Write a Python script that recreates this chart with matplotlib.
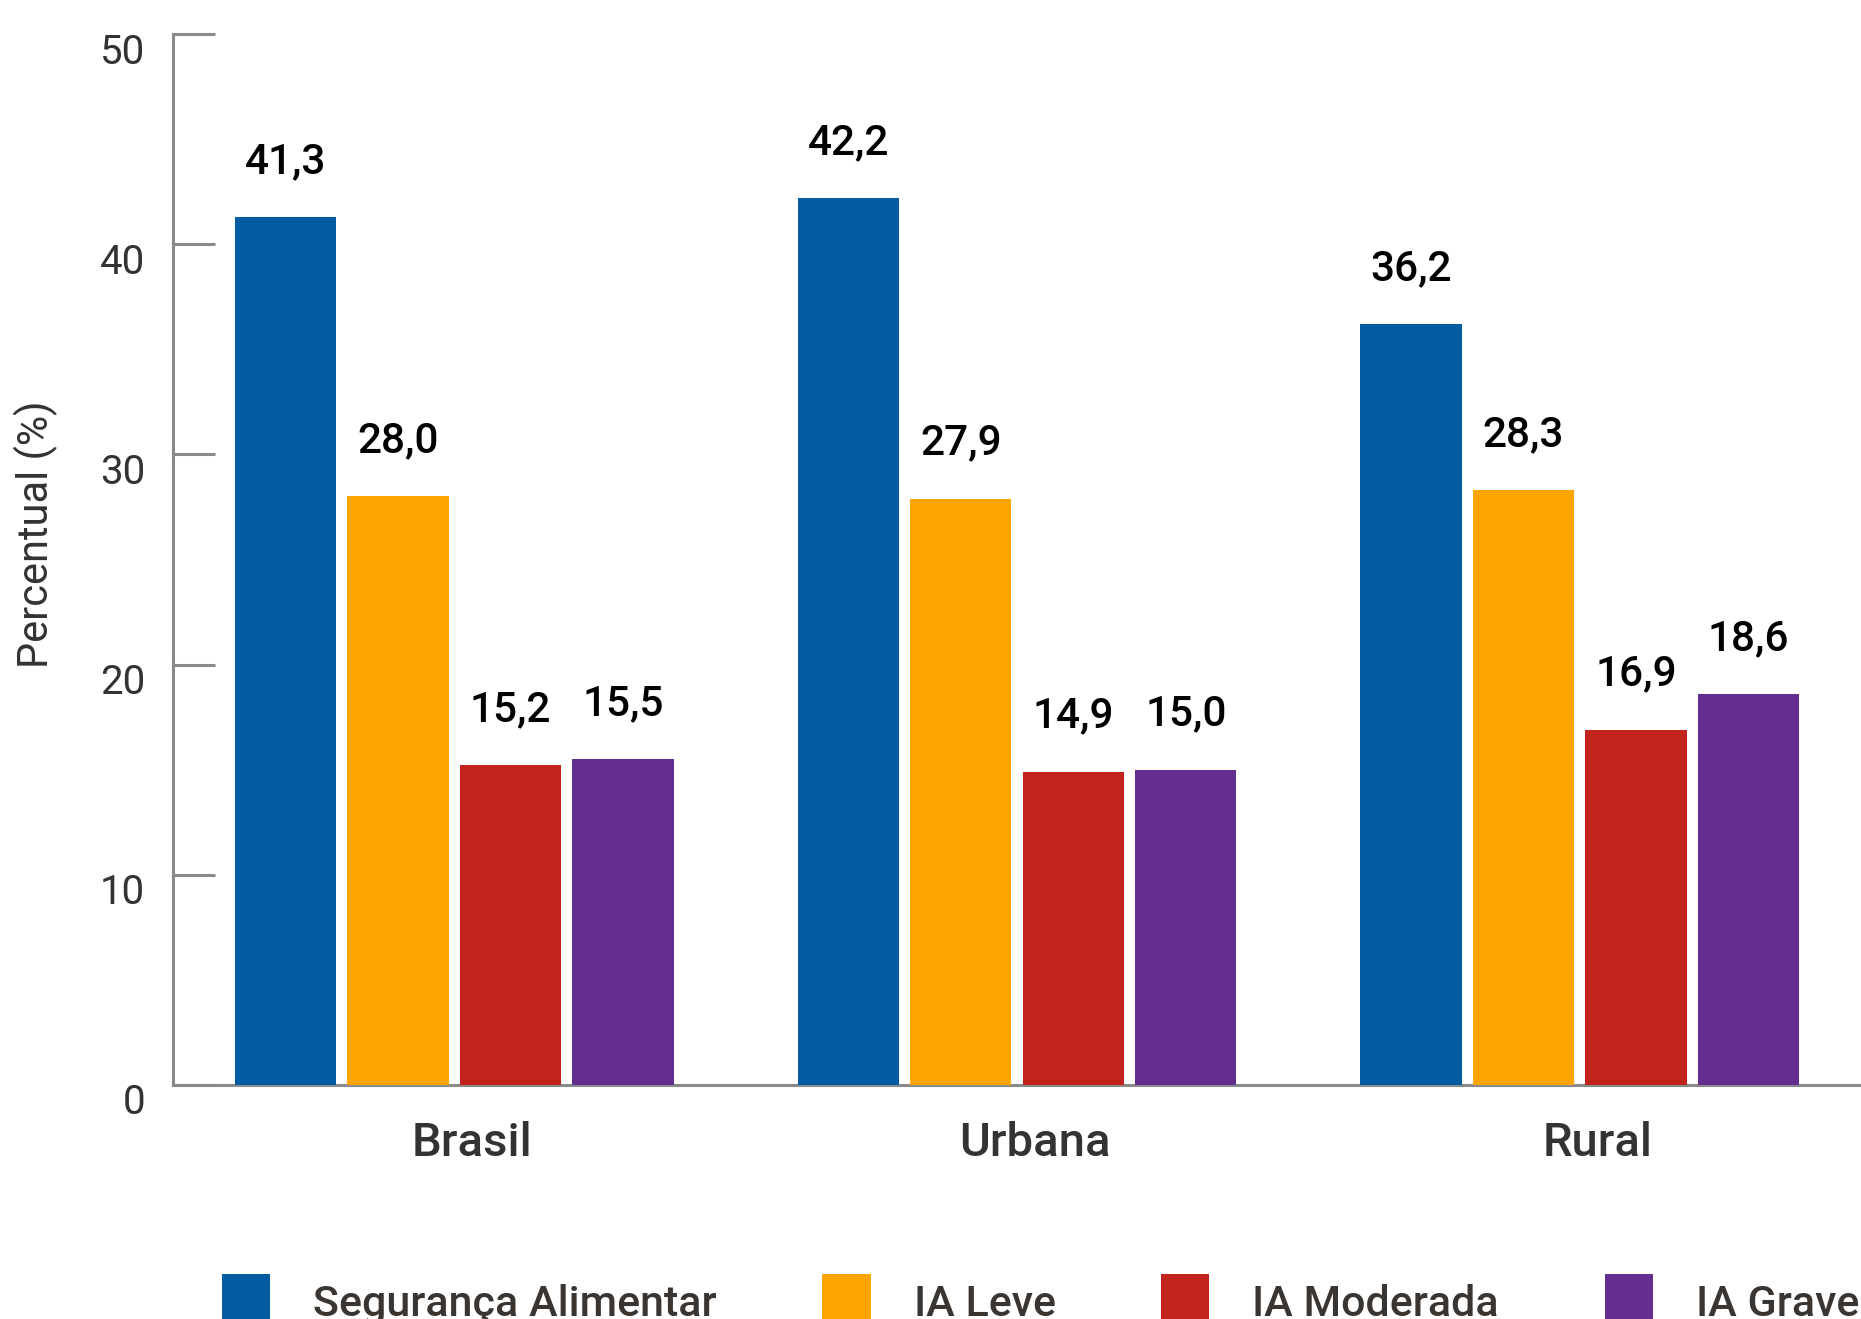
import numpy as np
import matplotlib
matplotlib.use('Agg')
from matplotlib import pyplot as plt
from matplotlib import transforms

plt.rcParams['font.family'] = ['Roboto', 'DejaVu Sans']

# data
regioes = ['Brasil', 'Urbana', 'Rural']
series = ['Segurança Alimentar', 'IA Leve', 'IA Moderada', 'IA Grave']
seguranca = [41.3, 42.2, 36.2]
ia_leve = [28.0, 27.9, 28.3]
ia_moderada = [15.2, 14.9, 16.9]
ia_grave = [15.5, 15.0, 18.6]
valores = [seguranca, ia_leve, ia_moderada, ia_grave]
cores = ['#015ca2', '#fca400', '#c1241b', '#642e8f']
y_ticks = [0, 10, 20, 30, 40, 50]

fig = plt.figure(figsize=(18.61, 13.19), dpi=100)
ax = fig.add_axes([173 / 1861, 1 - 1085 / 1319, 1 - 173 / 1861, (1085 - 34) / 1319])

x = np.arange(len(regioes))
step = 0.2
width = 0.18
for i, (nome, vals, cor) in enumerate(zip(series, valores, cores)):
    pos = x + (i - 1.5) * step
    ax.bar(pos, vals, width=width, color=cor, label=nome, zorder=3)
    for px, v in zip(pos, vals):
        ax.annotate(f'{v:.1f}'.replace('.', ','), (px, v), xytext=(0, 40),
                    textcoords='offset points', ha='center', va='center',
                    fontsize=30.5, fontweight='medium', color='black')

ax.set_xlim(-0.5, 2.5)
ax.set_ylim(0, 50)

# spines
for s in ['top', 'right']:
    ax.spines[s].set_visible(False)
for s in ['left', 'bottom']:
    ax.spines[s].set_color('#8a8a8a')
    ax.spines[s].set_linewidth(2.2)

ax.set_yticks(y_ticks)
ax.set_yticklabels([str(t) for t in y_ticks])
ax.tick_params(axis='y', direction='in', length=30, width=2.2, color='#8a8a8a',
               labelsize=29, labelcolor='#333333', pad=20)
offset = transforms.ScaledTranslation(0, -0.14, fig.dpi_scale_trans)
for lbl in ax.get_yticklabels():
    lbl.set_transform(lbl.get_transform() + offset)

ax.set_xticks(x)
ax.set_xticklabels(regioes, fontsize=34, fontweight='medium', color='#333333')
ax.tick_params(axis='x', length=0, pad=26)
offset_x = transforms.ScaledTranslation(0.18, 0, fig.dpi_scale_trans)
for lbl in ax.get_xticklabels():
    lbl.set_transform(lbl.get_transform() + offset_x)

fig.text(36 / 1861, 1 - 534 / 1319, 'Percentual (%)', rotation=90, ha='center',
         va='center', fontsize=30, color='#333333')

fig.legend(loc='center left', bbox_to_anchor=(222 / 1861, 1 - 1302 / 1319),
           ncol=4, frameon=False, handlelength=1.12, handleheight=1.65,
           handletextpad=1.0, columnspacing=2.45, borderpad=0, borderaxespad=0,
           prop={'size': 31, 'weight': 'medium'}, labelcolor='#3a3530')

fig.savefig('out.png', dpi=100)
